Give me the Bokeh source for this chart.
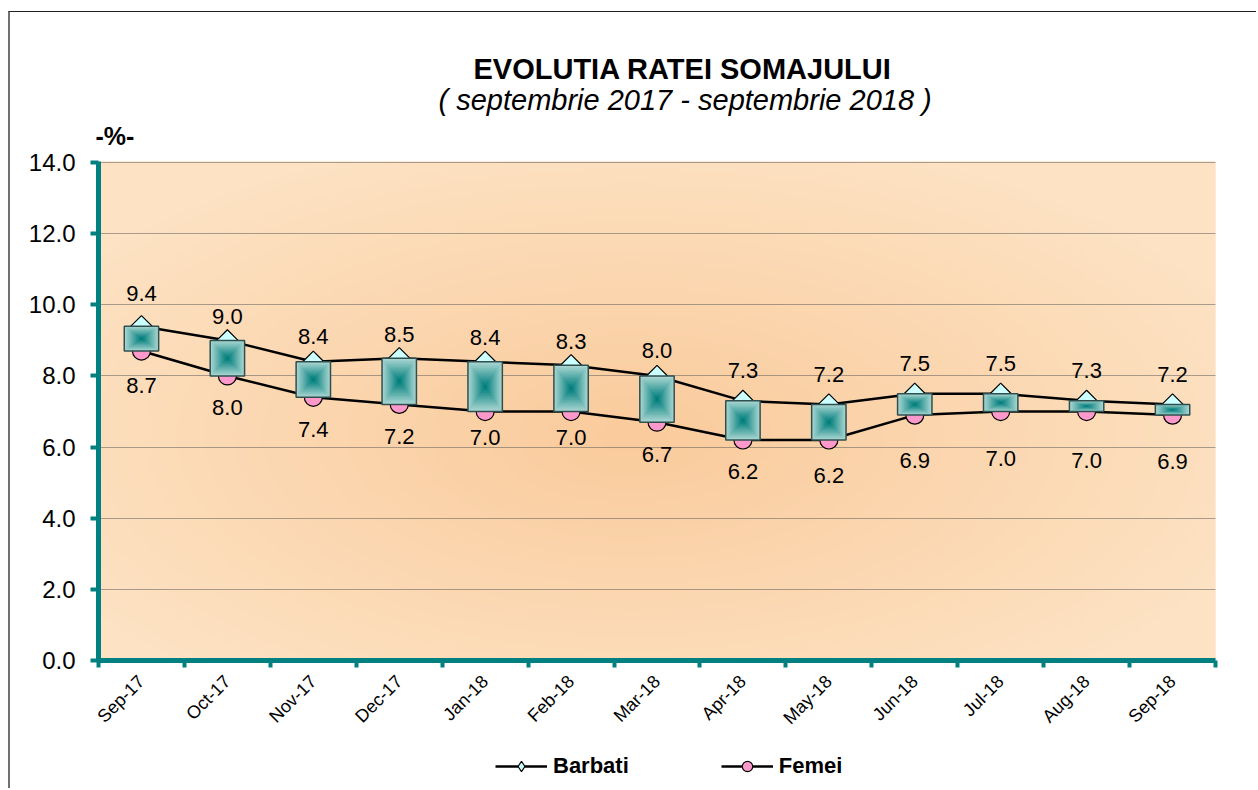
import math
import numpy as np
from bokeh.plotting import figure
from bokeh.layouts import column
from bokeh.models import (Range1d, FixedTicker, Title, Legend, LegendItem,
                          NumeralTickFormatter)
from bokeh.core.properties import value
from bokeh.embed import file_html
from bokeh.resources import INLINE

# ---------------- data ----------------
months = ["Sep-17", "Oct-17", "Nov-17", "Dec-17", "Jan-18", "Feb-18", "Mar-18",
          "Apr-18", "May-18", "Jun-18", "Jul-18", "Aug-18", "Sep-18"]
barbati = [9.4, 9.0, 8.4, 8.5, 8.4, 8.3, 8.0, 7.3, 7.2, 7.5, 7.5, 7.3, 7.2]
femei = [8.7, 8.0, 7.4, 7.2, 7.0, 7.0, 6.7, 6.2, 6.2, 6.9, 7.0, 7.0, 6.9]
y_ticks = [0, 2, 4, 6, 8, 10, 12, 14]

title_text = "EVOLUTIA RATEI SOMAJULUI"
subtitle_text = "( septembrie 2017 - septembrie 2018 )"
unit_text = "-%-"

# ---------------- styles ----------------
FONT = "Liberation Sans"
TEAL = "#008080"
n = len(months)
xc = [i + 0.5 for i in range(n)]
Y_MAX = 14
# pixel offsets of the value labels (as placed in the original chart)
barbati_label_dy = [-33, -24, -25, -24, -24, -24, -25, -30, -30, -30, -30, -30, -30]
femei_label_dy = [34, 32, 32, 32, 26, 26, 32, 32, 36, 45, 47, 49, 46]

p = figure(width=1246, height=726,
           x_range=Range1d(0, n), y_range=Range1d(0, Y_MAX + 0.03),
           output_backend="svg", toolbar_location=None,
           min_border_left=88, min_border_right=41,
           min_border_top=149, min_border_bottom=77,
           background_fill_color="#fde0c0", border_fill_color="white",
           outline_line_color=None)

# background radial gradient of the plot area
H, W = 140, 260
gy, gx = np.mgrid[0:H, 0:W]
xx = (gx + 0.5) / W * n
yy = (gy + 0.5) / H * Y_MAX
cx, cy = 6.2, 6.3
r = np.sqrt(((xx - cx) / 7.6) ** 2 + ((yy - cy) / 8.6) ** 2)
t = np.clip(r, 0, 1)
c0 = np.array([250, 203, 156], dtype=float)
c1 = np.array([253, 226, 195], dtype=float)
img = np.zeros((H, W, 4), dtype=np.uint8)
for k in range(3):
    img[:, :, k] = (c0[k] + (c1[k] - c0[k]) * t).astype(np.uint8)
img[:, :, 3] = 255
p.image_rgba(image=[img.view(np.uint32).reshape(H, W)], x=0, y=0, dw=n,
             dh=Y_MAX + 0.03, level="image")

# titles
p.title.text = title_text
p.title.text_font = FONT
p.title.text_font_size = "29px"
p.title.text_font_style = "bold"
p.title.text_color = "black"
p.title.align = "left"
p.title.offset = 375
p.title.standoff = 7

unit = Title(text=unit_text, text_font=FONT, text_font_size="25px",
             text_font_style="bold", text_color="black", align="left",
             offset=-3, standoff=23)
sub = Title(text=subtitle_text, text_font=FONT, text_font_size="29px",
            text_font_style="italic", text_color="black", align="left",
            offset=340, standoff=-14)
p.add_layout(unit, "above")
p.add_layout(sub, "above")

# axes
p.yaxis.ticker = FixedTicker(ticks=y_ticks)
p.yaxis.formatter = NumeralTickFormatter(format="0.0")
p.yaxis.axis_line_color = TEAL
p.yaxis.axis_line_width = 5
p.yaxis.major_tick_line_color = TEAL
p.yaxis.major_tick_line_width = 4
p.yaxis.major_tick_out = 8
p.yaxis.major_tick_in = 0
p.yaxis.minor_tick_line_color = None
p.yaxis.major_label_text_font = FONT
p.yaxis.major_label_text_font_size = "24px"
p.yaxis.major_label_text_color = "black"
p.yaxis.major_label_standoff = 15

p.xaxis.ticker = FixedTicker(ticks=xc, minor_ticks=list(range(n + 1)))
p.xaxis.major_label_overrides = {x: m for x, m in zip(xc, months)}
p.xaxis.axis_line_color = TEAL
p.xaxis.axis_line_width = 5
p.xaxis.major_tick_line_color = None
p.xaxis.major_tick_out = 0
p.xaxis.major_tick_in = 0
p.xaxis.minor_tick_line_color = TEAL
p.xaxis.minor_tick_line_width = 4
p.xaxis.minor_tick_out = 7
p.xaxis.minor_tick_in = 0
p.xaxis.major_label_orientation = math.pi / 4
p.xaxis.major_label_text_font = FONT
p.xaxis.major_label_text_font_size = "18px"
p.xaxis.major_label_text_color = "black"
p.xaxis.major_label_standoff = 11

p.xgrid.grid_line_color = None
p.ygrid.grid_line_color = "#555555"
p.ygrid.grid_line_width = 1
p.ygrid.grid_line_dash = "1 1"
p.ygrid.level = "underlay"

# lines and markers
LINE_KW = dict(line_color="black", line_width=2.5)
B_KW = dict(marker="square", angle=math.pi / 4, size=15,
            fill_color="#ccffff", line_color="black", line_width=1.2)
F_KW = dict(marker="circle", size=18,
            fill_color="#ff99cc", line_color="black", line_width=1.2)
p.line(xc, barbati, **LINE_KW)
p.line(xc, femei, **LINE_KW)
p.scatter(xc, barbati, **B_KW)
p.scatter(xc, femei, **F_KW)

# up/down boxes with a "from center" gradient
BOX_W = 0.4
mid = [(a + b) / 2 for a, b in zip(barbati, femei)]
span = [a - b for a, b in zip(barbati, femei)]
edge = np.array([170, 214, 210], dtype=float)
core = np.array([0, 126, 124], dtype=float)
NL = 16
for k in range(NL):
    s = 1 - k / NL
    f = k / (NL - 1)
    col = tuple(int(round(edge[j] + (core[j] - edge[j]) * f)) for j in range(3))
    p.rect(x=xc, y=mid, width=BOX_W * s, height=[h * s for h in span],
           fill_color="#%02x%02x%02x" % col, line_color=None)
p.rect(x=xc, y=mid, width=BOX_W, height=span, fill_color=None,
       line_color="#2f4f4f", line_width=1.5)

# data labels
p.text(x=xc, y=barbati, text=[f"{v:.1f}" for v in barbati],
       text_font=value(FONT), text_font_size="22px", text_color="black",
       text_align="center", text_baseline="middle", y_offset=barbati_label_dy)
p.text(x=xc, y=femei, text=[f"{v:.1f}" for v in femei],
       text_font=value(FONT), text_font_size="22px", text_color="black",
       text_align="center", text_baseline="middle", y_offset=femei_label_dy)

# legend strip under the chart (series drawn out of view, only legend shows)
q = figure(width=1246, height=50, x_range=Range1d(-100, -99),
           y_range=Range1d(-100, -99), output_backend="svg",
           toolbar_location=None, x_axis_location=None, y_axis_location=None,
           min_border=0, outline_line_color=None,
           background_fill_color="white", border_fill_color="white")
q.grid.visible = False
qlb = q.line(xc, barbati, **LINE_KW)
qsb = q.scatter(xc, barbati, marker="diamond", size=15, fill_color="#ccffff",
                line_color="black", line_width=1.2)
qlf = q.line(xc, femei, **LINE_KW)
qsf = q.scatter(xc, femei, **F_KW)
legend = Legend(items=[LegendItem(label="Barbati", renderers=[qlb, qsb]),
                       LegendItem(label="Femei", renderers=[qlf, qsf])],
                location=(397, 9), orientation="horizontal",
                glyph_width=52, glyph_height=26, label_height=24,
                label_standoff=6, spacing=92, padding=0, margin=0,
                label_text_font=FONT, label_text_font_size="22px",
                label_text_font_style="bold", label_text_color="black",
                border_line_color=None, background_fill_alpha=0)
q.add_layout(legend, "center")

layout = column(p, q, margin=(11, 0, 0, 8),
                styles={"border-left": "2px solid #707070",
                        "border-top": "1px solid #202020"})

open("out.html", "w").write(file_html(layout, INLINE))
